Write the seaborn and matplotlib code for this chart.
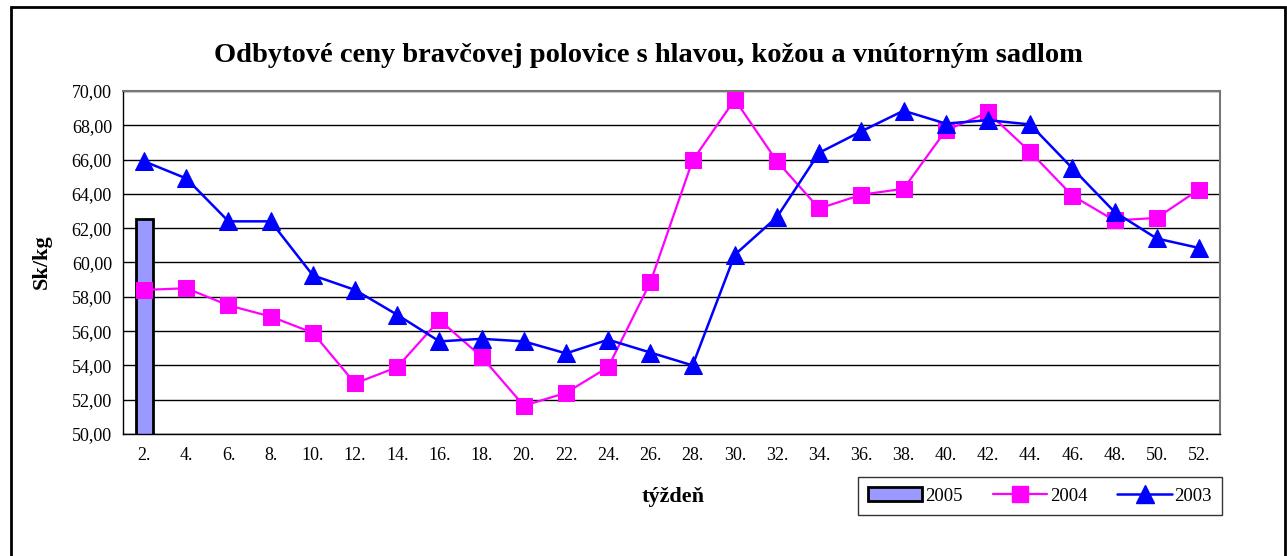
import numpy as np
import pandas as pd
import seaborn as sns
import matplotlib.pyplot as plt
from matplotlib.patches import Rectangle, Patch
from matplotlib.lines import Line2D

weeks = [f"{w}." for w in range(2, 53, 2)]
ceny_2005 = [62.55] + [np.nan] * 25
ceny_2004 = [58.4, 58.5, 57.5, 56.85, 55.9, 52.95, 53.9, 56.65, 54.5, 51.65,
             52.4, 53.9, 58.85, 65.95, 69.5, 65.9, 63.15, 63.95, 64.3, 67.7,
             68.75, 66.45, 63.9, 62.45, 62.6, 64.25]
ceny_2003 = [65.9, 64.9, 62.4, 62.4, 59.25, 58.4, 56.95, 55.4, 55.55, 55.4,
             54.7, 55.5, 54.75, 54.0, 60.45, 62.65, 66.4, 67.65, 68.85, 68.1,
             68.3, 68.05, 65.5, 62.95, 61.4, 60.85]

df = pd.DataFrame({"tyzden": weeks, "pos": np.arange(len(weeks)),
                   "2005": ceny_2005, "2004": ceny_2004, "2003": ceny_2003})

sns.set_style("white")
plt.rcParams['font.family'] = ['Liberation Serif', 'DejaVu Serif']
plt.rcParams['text.color'] = 'black'
plt.rcParams['axes.labelcolor'] = 'black'
plt.rcParams['xtick.color'] = 'black'
plt.rcParams['ytick.color'] = 'black'

fig = plt.figure(figsize=(12.87, 5.56), dpi=100)
ax = fig.add_axes([123 / 1287, 1 - 434 / 556, 1097 / 1287, 343 / 556])

sns.barplot(x="tyzden", y="2005", data=df, order=weeks, color="#9999FF",
            saturation=1, width=0.4, edgecolor="black", linewidth=2, ax=ax)
sns.lineplot(x="pos", y="2004", data=df, color="#FF00FF", marker="s",
             markersize=11, markeredgecolor="#FF00FF", linewidth=1.6, ax=ax)
sns.lineplot(x="pos", y="2003", data=df, color="#0000FF", marker="^",
             markersize=12.5, markeredgecolor="#0000FF", linewidth=1.8, ax=ax)

ax.set_xlim(-0.5, len(weeks) - 0.5)
ax.set_ylim(50, 70)
ax.set_yticks(np.arange(50, 71, 2))
ax.set_yticklabels([f"{v:.2f}".replace(".", ",") for v in np.arange(50, 71, 2)])
ax.set_xticks(np.arange(len(weeks)))
ax.set_xticklabels(weeks)
ax.set_xticks(np.arange(-0.5, len(weeks), 2), minor=True)
ax.tick_params(axis="x", which="major", length=0, labelsize=13, pad=9, labelcolor="black")
ax.tick_params(axis="x", which="minor", length=5, width=1, color="black", direction="out")
ax.tick_params(axis="y", length=6, width=1, color="black", direction="out",
               labelsize=13, pad=2, labelcolor="black")
ax.yaxis.grid(True, color="black", linewidth=1)
ax.set_axisbelow(True)

for s in ["left", "bottom"]:
    ax.spines[s].set_color("black")
    ax.spines[s].set_linewidth(1)
for s in ["top", "right"]:
    ax.spines[s].set_color("#777777")
    ax.spines[s].set_linewidth(1.5)

ax.set_xlabel("")
ax.set_ylabel("")
fig.text(42 / 1287, 1 - 262 / 556, "Sk/kg", fontsize=16, fontweight="bold",
         rotation=90, ha="center", va="center", color="black")
fig.text(673 / 1287, 1 - 497 / 556, "týždeň", fontsize=16, fontweight="bold",
         ha="center", va="center", color="black")
fig.text(648 / 1287, 1 - 55 / 556,
         "Odbytové ceny bravčovej polovice s hlavou, kožou a vnútorným sadlom",
         fontsize=20.5, fontweight="bold", ha="center", va="center", color="black")

handles = [Patch(facecolor="#9999FF", edgecolor="black", linewidth=2),
           Line2D([], [], color="#FF00FF", marker="s", markersize=11, linewidth=1.6),
           Line2D([], [], color="#0000FF", marker="^", markersize=12.5, linewidth=1.8)]
leg = fig.legend(handles, ["2005", "2004", "2003"], ncol=3, loc="center",
                 bbox_to_anchor=(1040 / 1287, 1 - 496 / 556), fontsize=13.5,
                 frameon=True, fancybox=False, edgecolor="black",
                 handlelength=2.9, handletextpad=0.15, columnspacing=1.6,
                 borderpad=0.55, labelcolor="black")
leg.get_frame().set_linewidth(1)

fig.patches.append(Rectangle((11 / 1287, -0.05), 1274 / 1287, 1.05 - 7 / 556,
                             transform=fig.transFigure, fill=False,
                             edgecolor="black", linewidth=2))

fig.savefig("out.png", dpi=100)
